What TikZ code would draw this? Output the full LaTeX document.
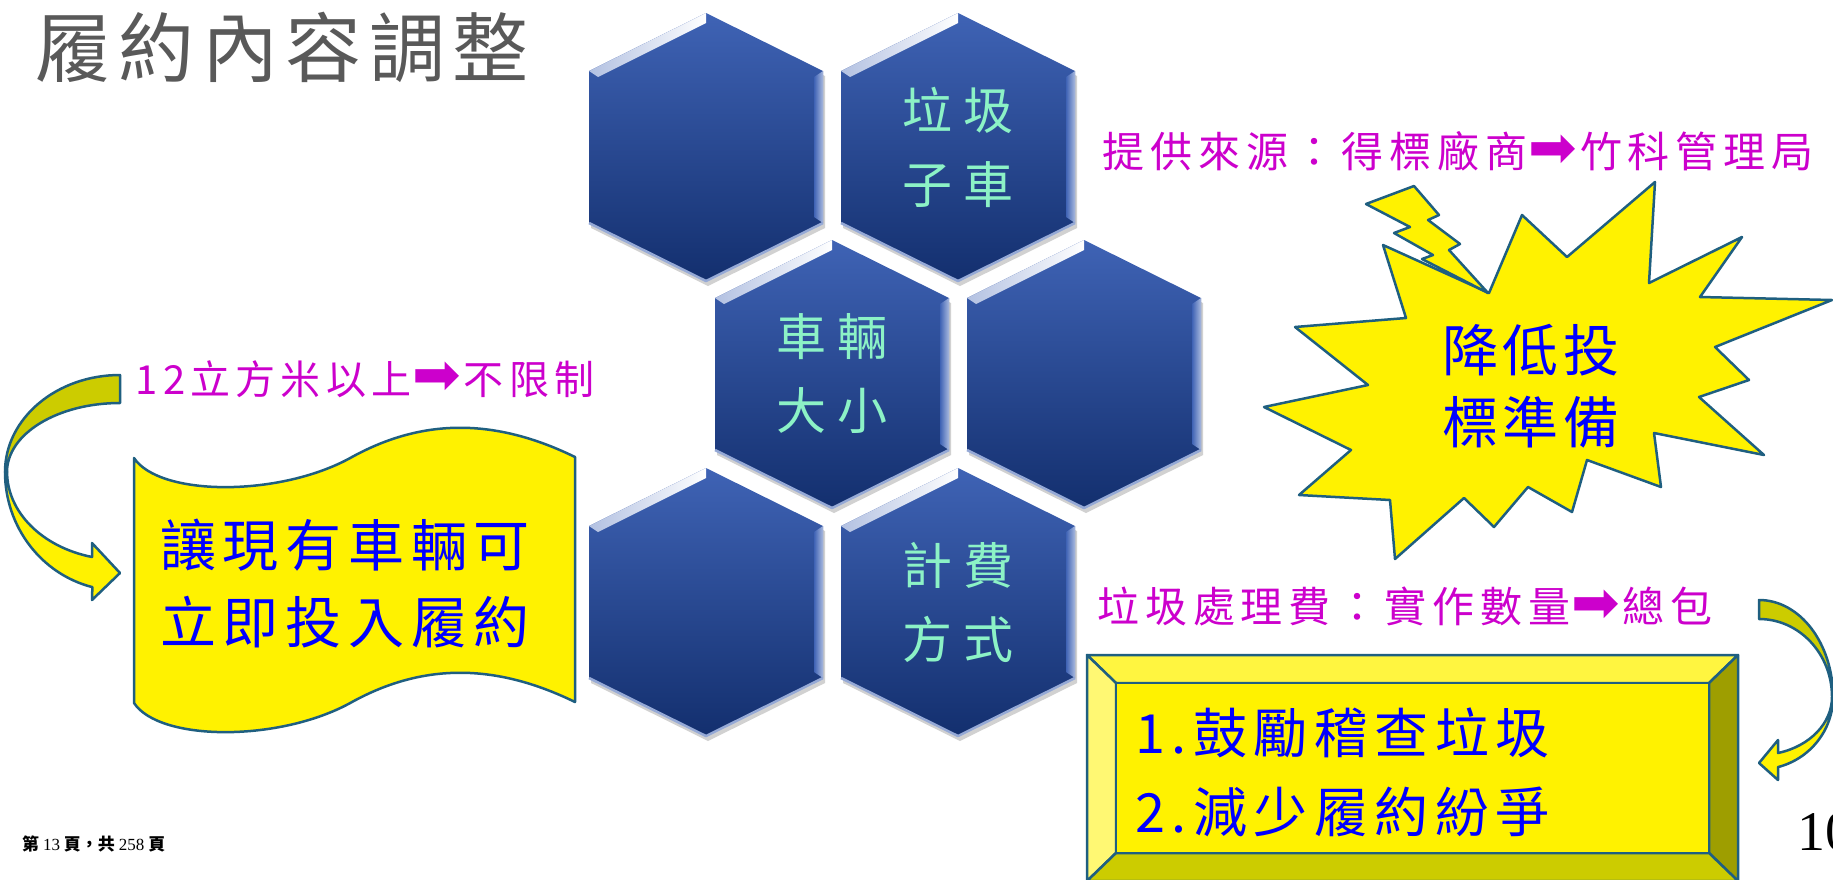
\documentclass[tikz,border=0pt]{standalone}
\usepackage{fontspec}
\setmainfont{Noto Sans CJK TC}
\newfontfamily\symfont{DejaVu Sans}
\newfontfamily\seriffont{Liberation Serif}
\definecolor{hexgreen}{HTML}{8CF2C6}
\definecolor{pinktext}{HTML}{CC00CC}
\definecolor{bluetext}{HTML}{0000FF}
\definecolor{titlegray}{HTML}{595959}
\definecolor{edgeteal}{HTML}{1F5F80}
\definecolor{olive}{HTML}{CCCC00}
\definecolor{darkolive}{HTML}{9E9E00}
\definecolor{hextop}{HTML}{3F63B5}
\definecolor{hexbot}{HTML}{132F6E}
\newcommand\pinkarrow{{\symfont\fontsize{58}{58}\selectfont\kern1pt ➡\kern3pt}}
\tikzset{
  hexcap/.style={text=hexgreen, align=center, inner sep=0pt,
    font=\fontsize{50}{74}\selectfont\addfontfeature{LetterSpace=22}},
  pinknote/.style={text=pinktext, inner sep=0pt,
    font=\fontsize{42}{50}\selectfont\addfontfeature{LetterSpace=14}},
  bluenote/.style={text=bluetext, inner sep=0pt},
  yellowshape/.style={fill=yellow, draw=edgeteal, line width=2.5pt, line join=round},
}
\begin{document}
\begin{tikzpicture}[x=1pt, y=1pt]
\useasboundingbox (0,0) rectangle (1833,-879);
\node[text=titlegray, inner sep=0pt, font=\fontsize{76}{80}\selectfont\addfontfeature{LetterSpace=10}] (title) at (282,-47) {履約內容調整};

% hexagons
\foreach \nm/\cx/\cy/\txt in {hexA/706/147/{}, hexB/958/147/{垃圾\\子車}, hexC/832/374/{車輛\\大小},
    hexD/1084/374/{}, hexE/706/602/{}, hexF/958/602/{計費\\方式}}{
  \begin{scope}[shift={(\cx,-\cy)}]
    \fill[black, opacity=.18] (2,129)--(119,71)--(119,-81)--(2,-139)--(-115,-81)--(-115,71)--cycle;
    \shade[top color=hextop, bottom color=hexbot] (0,134)--(117,76)--(117,-76)--(0,-134)--(-117,-76)--(-117,76)--cycle;
    \shade[left color=hextop!40!white, right color=white] (-117,76)--(0,134)--(0,124)--(-108,70)--cycle;
    \shade[left color=hextop, right color=hextop!45!white] (108,70)--(117,76)--(117,-76)--(108,-70)--cycle;
    \draw[hextop!55!white, line width=2.5pt, line join=round] (117,-76)--(0,-134)--(-117,-76);
    \node[hexcap] (\nm) at (0,0) {\txt};
  \end{scope}
}

% notes
\node[pinknote] (sourcenote) at (1458,-151) {提供來源：得標廠商\pinkarrow 竹科管理局};
\node[pinknote] (feenote) at (1405,-606) {垃圾處理費：實作數量\pinkarrow 總包};
\node[pinknote, font=\fontsize{40}{48}\selectfont\addfontfeature{LetterSpace=13}] (sizenote) at (365,-379) {12立方米以上\pinkarrow 不限制};

% explosion
\draw[yellowshape] (1383,-245)--(1489,-293)--(1522,-215)--(1567,-257)--(1655,-182)--(1649,-283)
  --(1742,-237)--(1700,-297)--(1832,-300)--(1715,-347)--(1749,-380)--(1699,-397)--(1764,-455)
  --(1654,-433)--(1661,-487)--(1587,-460)--(1572,-512)--(1528,-487)--(1494,-527)--(1464,-498)
  --(1395,-559)--(1390,-500)--(1299,-495)--(1351,-450)--(1264,-407)--(1368,-385)--(1295,-327)
  --(1406,-318)--cycle;
\draw[yellowshape] (1366,-204)--(1414,-186)--(1439,-215)--(1428,-220)--(1460,-244)--(1449,-250)
  --(1488,-293)--(1422,-259)--(1433,-255)--(1394,-233)--(1410,-227)--cycle;
\node[bluenote, align=center, font=\fontsize{56}{72}\selectfont\addfontfeature{LetterSpace=8}] (burstcap) at (1531,-386) {降低投\\標準備};

% wave
\draw[yellowshape] (134,-458) .. controls (160,-497) and (281,-497) .. (352,-457)
  .. controls (423,-418) and (495,-418) .. (575,-457) -- (575,-702)
  .. controls (495,-663) and (423,-663) .. (352,-702)
  .. controls (281,-742) and (160,-742) .. (134,-703) -- cycle;
\node[bluenote, align=center, font=\fontsize{56}{77}\selectfont\addfontfeature{LetterSpace=12}] (wavecap) at (345,-584) {讓現有車輛可\\立即投入履約};

% curved arrow, left
\draw[yellowshape, fill=olive] (120,-375) arc[start angle=90, end angle=180, x radius=115, y radius=97]
  -- (7,-472) arc[start angle=180, end angle=90, x radius=113, y radius=69] -- cycle;
\draw[yellowshape] (5,-472) arc[start angle=180, end angle=256.1, x radius=115, y radius=118.6]
  -- (92,-600) -- (120,-573) -- (92,-543) -- (92,-557)
  arc[start angle=255.6, end angle=180, x radius=113, y radius=87.7] -- cycle;

% curved arrow, right
\draw[yellowshape, fill=olive] (1759,-600) arc[start angle=90, end angle=0, x radius=74, y radius=97]
  -- (1832,-697) arc[start angle=0, end angle=90, x radius=73, y radius=78] -- cycle;
\draw[yellowshape] (1833,-697) arc[start angle=0, end angle=-75.1, x radius=74, y radius=72.5]
  -- (1778,-780) -- (1759,-763) -- (1778,-740) -- (1778,-753)
  arc[start angle=-74.9, end angle=0, x radius=73, y radius=58] -- cycle;

% bevel box
\draw[yellowshape, fill=yellow!75!white] (1087,-655)--(1738,-655)--(1709,-683)--(1116,-683)--cycle;
\draw[yellowshape, fill=yellow!55!white] (1087,-655)--(1116,-683)--(1116,-853)--(1087,-881)--cycle;
\draw[yellowshape, fill=darkolive] (1738,-655)--(1738,-881)--(1709,-853)--(1709,-683)--cycle;
\draw[yellowshape, fill=olive] (1087,-881)--(1116,-853)--(1709,-853)--(1738,-881)--cycle;
\draw[yellowshape] (1116,-683) rectangle (1709,-853);
\node[bluenote, anchor=west, align=left, font=\fontsize{54}{79}\selectfont\addfontfeature{LetterSpace=12}] (boxcap) at (1135,-772) {1.鼓勵稽查垃圾\\2.減少履約紛爭};

% footer
\node[anchor=base west, inner sep=0pt, font=\seriffont\fontsize{56}{60}\selectfont] (pagenum) at (1797,-850) {10};
\node[anchor=base west, inner sep=0pt, font=\bfseries\fontsize{17}{20}\selectfont] (footer) at (22,-850) {第 {\seriffont\mdseries 13} 頁，共 {\seriffont\mdseries 258} 頁};
\end{tikzpicture}
\end{document}
